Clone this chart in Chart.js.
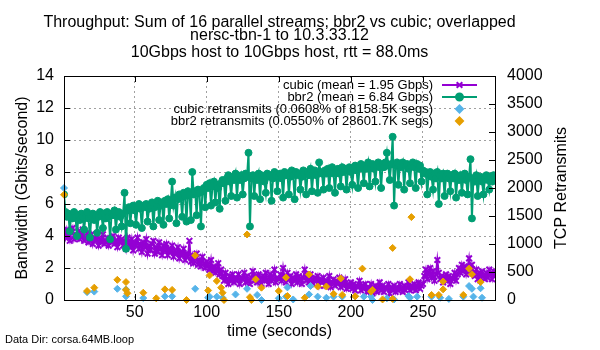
<!DOCTYPE html>
<html>
<head>
<meta charset="utf-8">
<script src="https://cdn.jsdelivr.net/npm/chart.js@4.4.1/dist/chart.umd.min.js"></script>
<style>
  html, body { margin: 0; padding: 0; background: #fff; }
  #wrap { width: 600px; height: 350px; position: relative; }
</style>
</head>
<body>
<div id="wrap"><canvas id="tput"></canvas></div>
<script>
// throughput per second, Gbits/s
const cubicGbps = [
  4.3, 3.9, 4.4, 4.0, 3.7, 4.2, 4.5, 3.8, 4.1, 3.9,
  4.3, 3.8, 4.0, 4.4, 3.7, 3.9, 4.2, 3.6, 3.8, 4.1,
  3.5, 3.9, 3.7, 4.0, 3.4, 3.8, 3.6, 4.1, 3.5, 3.7,
  3.9, 3.4, 3.8, 3.6, 4.0, 3.5, 3.7, 3.3, 3.9, 3.6,
  3.8, 3.4, 3.7, 3.2, 3.9, 3.5, 3.3, 3.8, 3.1, 3.6,
  3.4, 3.9, 3.2, 3.5, 3.0, 3.6, 3.3, 3.8, 2.9, 3.4,
  3.1, 3.5, 3.7, 2.9, 3.3, 3.0, 3.6, 3.2, 2.8, 3.4,
  3.1, 3.5, 2.8, 3.2, 3.0, 3.4, 2.7, 3.1, 2.9, 3.3,
  2.6, 3.0, 2.8, 3.2, 2.5, 2.9, 2.7, 3.7, 2.4, 2.8,
  2.3, 2.6, 2.9, 2.2, 2.5, 2.1, 2.7, 2.3, 2.0, 2.4,
  2.2, 1.9, 2.5, 1.8, 2.1, 1.7, 2.0, 2.3, 1.6, 1.9,
  1.5, 1.2, 1.7, 1.3, 1.0, 1.5, 1.2, 1.6, 1.1, 1.4,
  1.2, 1.6, 1.0, 1.4, 1.3, 1.7, 1.1, 1.5, 1.2, 1.0,
  1.4, 1.8, 1.2, 1.5, 1.1, 1.6, 1.3, 1.0, 1.5, 1.2,
  1.7, 1.3, 1.0, 1.6, 1.2, 1.5, 1.9, 1.1, 1.4, 1.3,
  1.6, 1.2, 2.0, 1.4, 1.1, 1.7, 1.3, 1.5, 1.0, 1.4,
  1.2, 1.6, 1.1, 1.5, 1.3, 1.0, 1.4, 1.9, 1.2, 1.5,
  1.1, 1.6, 1.3, 1.0, 1.4, 1.2, 1.5, 0.9, 1.3, 1.1,
  1.4, 0.9, 1.2, 1.0, 1.5, 0.8, 1.1, 1.3, 0.9, 1.2,
  1.0, 1.4, 0.8, 1.1, 0.9, 1.3, 0.7, 1.0, 0.8, 1.1,
  0.7, 1.0, 0.6, 0.9, 0.8, 1.2, 0.6, 0.9, 0.7, 1.0,
  0.5, 0.8, 0.6, 1.0, 0.4, 0.7, 0.9, 0.5, 0.8, 1.1,
  0.6, 0.9, 0.5, 0.8, 0.7, 1.0, 0.4, 0.8, 0.6, 0.9,
  0.5, 0.8, 0.6, 1.0, 0.7, 0.5, 0.9, 0.6, 0.8, 1.1,
  0.6, 0.9, 0.7, 1.0, 0.6, 0.8, 1.1, 0.7, 0.9, 1.0,
  1.5, 1.9, 1.3, 1.7, 2.0, 1.4, 1.8, 1.2, 1.6, 2.5,
  1.7, 1.3, 1.5, 1.1, 1.4, 1.6, 1.2, 1.5, 1.0, 1.4,
  1.3, 1.7, 1.2, 1.6, 2.0, 1.7, 2.2, 1.8, 2.1, 1.6,
  2.0, 2.6, 1.8, 2.2, 1.7, 1.5, 1.9, 1.3, 1.7, 1.4,
  1.8, 1.5, 1.3, 1.7, 1.4, 1.9, 1.6, 1.3, 1.8, 1.5
];
const bbr2Gbps = [
  6.6, 5.5, 5.2, 5.4, 4.3, 5.3, 5.1, 5.5, 5.2, 4.0,
  5.3, 5.0, 5.4, 5.2, 4.4, 5.3, 5.5, 5.1, 3.9, 5.2,
  5.4, 5.0, 5.3, 4.2, 5.2, 5.5, 5.3, 4.5, 5.4, 5.1,
  5.5, 5.2, 3.8, 5.4, 5.3, 5.6, 4.4, 5.3, 5.5, 5.2,
  4.6, 5.4, 6.7, 3.2, 5.6, 5.8, 4.8, 5.7, 5.9, 5.6,
  4.7, 5.8, 6.0, 5.7, 4.5, 5.9, 5.8, 6.0, 4.9, 5.7,
  5.9, 6.1, 4.6, 5.8, 6.0, 6.2, 5.0, 5.9, 6.1, 4.7,
  6.2, 6.0, 6.3, 5.1, 6.1, 7.4, 5.9, 6.4, 4.8, 6.3,
  6.6, 6.4, 5.2, 6.7, 6.5, 4.9, 6.8, 6.6, 5.0, 8.0,
  6.6, 6.8, 5.3, 6.9, 6.7, 4.6, 6.8, 7.0, 5.8, 7.2,
  7.0, 7.3, 5.9, 7.1, 7.4, 6.1, 7.2, 7.0, 5.7, 7.3,
  7.5, 7.3, 6.2, 7.6, 7.8, 7.4, 6.5, 7.7, 7.5, 7.9,
  6.4, 7.7, 7.5, 7.8, 6.6, 7.6, 7.9, 7.7, 9.2, 4.6,
  7.6, 7.8, 6.5, 7.7, 7.5, 7.9, 6.3, 7.8, 7.6, 7.4,
  6.7, 7.9, 7.7, 7.8, 6.2, 7.6, 8.0, 7.8, 6.8, 7.7,
  7.9, 7.6, 6.4, 8.0, 7.8, 7.9, 6.6, 7.7, 8.1, 7.8,
  6.3, 8.0, 7.8, 7.9, 6.9, 7.7, 8.1, 7.9, 6.6, 8.0,
  7.8, 8.2, 6.8, 7.9, 8.1, 7.8, 6.7, 8.6, 8.0, 7.9,
  6.9, 8.1, 7.9, 8.2, 7.0, 8.0, 8.3, 7.9, 6.7, 8.1,
  8.2, 7.9, 7.1, 8.3, 8.0, 8.2, 6.9, 8.1, 8.3, 8.0,
  7.2, 8.2, 8.4, 8.1, 7.0, 8.3, 8.5, 8.2, 7.3, 8.4,
  8.2, 8.6, 7.1, 8.3, 8.5, 8.2, 7.4, 8.4, 8.6, 8.3,
  7.0, 8.5, 8.3, 8.6, 9.2, 8.4, 7.5, 8.5, 10.2, 5.9,
  8.4, 8.6, 7.2, 8.5, 8.3, 8.6, 6.9, 8.4, 8.5, 8.2,
  7.3, 8.4, 8.6, 8.3, 7.0, 8.5, 8.2, 8.4, 7.4, 8.1,
  7.9, 8.0, 6.6, 7.8, 8.0, 7.7, 6.9, 7.9, 7.6, 8.0,
  6.0, 7.8, 7.6, 7.9, 6.5, 7.7, 7.9, 7.6, 6.8, 7.8,
  7.6, 7.9, 6.4, 7.7, 7.5, 7.8, 6.7, 7.6, 7.9, 7.5,
  6.6, 7.7, 8.8, 5.1, 7.6, 7.4, 7.8, 6.5, 7.5, 7.7,
  7.4, 6.6, 7.6, 7.8, 7.5, 6.9, 7.7, 7.4, 7.8, 7.5
];

// retransmits: [second, count]
const cubicRetrans = [
  [1, 2000], [17, 140], [22, 150], [38, 200], [44, 190], [44, 65], [56, 35],
  [71, 65], [76, 65], [92, 200], [101, 40], [102, 60], [107, 60], [111, 40],
  [120, 100], [128, 200], [135, 90], [138, 0], [150, 30], [155, 60], [156, 225],
  [160, 10], [171, 100], [172, 250], [177, 60], [183, 40], [188, 60], [194, 60],
  [203, 65], [209, 60], [214, 60], [215, 0], [225, 30], [230, 10], [240, 70],
  [241, 40], [246, 60], [256, 60], [262, 40], [268, 20], [278, 60], [282, 250],
  [284, 200], [285, 60], [290, 210], [291, 40]
];
const bbr2Retrans = [
  [1, 1880], [17, 160], [22, 220], [38, 360], [44, 320], [44, 180], [45, 120],
  [56, 130], [65, 30], [71, 190], [76, 180], [86, 0], [92, 795], [101, 170],
  [102, 440], [107, 340], [110, 220], [111, 130], [112, 0], [128, 1170],
  [130, 50], [131, 0], [134, 370], [138, 220], [150, 160], [155, 400], [156, 70],
  [168, 40], [171, 455], [177, 240], [183, 240], [188, 110], [193, 385],
  [194, 90], [203, 65], [208, 560], [214, 150], [215, 180], [222, 10],
  [229, 930], [229, 20], [241, 370], [242, 1480], [256, 90], [261, 90],
  [264, 190], [264, 330], [278, 90], [282, 560], [284, 460], [290, 320]
];

const xTicks = [50, 100, 150, 200, 250];
const titleLines = [
  'Throughput: Sum of 16 parallel streams; bbr2 vs cubic; overlapped',
  'nersc-tbn-1 to 10.3.33.12',
  '10Gbps host to 10Gbps host, rtt = 88.0ms'
];
const seriesNames = [
  'cubic (mean = 1.95 Gbps)',
  'bbr2 (mean = 6.84 Gbps)',
  'cubic retransmits (0.0608% of 8158.5K segs)',
  'bbr2 retransmits (0.0550% of 28601.7K segs)'
];
const y2Title = 'TCP Retransmits';
const dataDir = 'Data Dir: corsa.64MB.loop';

const FONT = '"Liberation Sans", Arial, sans-serif';
Chart.defaults.font.family = FONT;
Chart.defaults.color = '#000';

const seconds = cubicGbps.map((v, i) => i + 1);
const toXY = (vals) => vals.map((v, i) => ({ x: seconds[i], y: v }));
const pairs = (arr) => arr.map(p => ({ x: p[0], y: p[1] }));

// gnuplot style key: text right aligned, sample on the right
const keyPlugin = {
  id: 'gnuKey',
  afterDatasetsDraw(chart) {
    const ctx = chart.ctx;
    const area = chart.chartArea;
    const textRight = area.right - 62;
    const sx0 = textRight + 9, sx1 = textRight + 44;
    ctx.save();
    ctx.font = '13px ' + FONT;
    ctx.textAlign = 'right';
    ctx.textBaseline = 'middle';
    chart.data.datasets.forEach((ds, i) => {
      const y = area.top + 9 + i * 12;
      ctx.fillStyle = '#000';
      ctx.fillText(ds.label, textRight, y);
      ctx.strokeStyle = ds.borderColor;
      ctx.fillStyle = ds.pointBackgroundColor;
      if (ds.showLine) {
        ctx.lineWidth = ds.borderWidth;
        ctx.beginPath();
        ctx.moveTo(sx0, y);
        ctx.lineTo(sx1, y);
        ctx.stroke();
      }
      Chart.helpers.drawPoint(ctx, {
        pointStyle: ds.pointStyle, rotation: 0,
        radius: ds.pointRadius, borderWidth: ds.pointBorderWidth
      }, (sx0 + sx1) / 2, y);
    });
    ctx.restore();
  }
};

// box round the plot, inward ticks, titles gnuplot puts where chart.js won't
const framePlugin = {
  id: 'frame',
  afterDatasetsDraw(chart) {
    const ctx = chart.ctx;
    const a = chart.chartArea;
    const sx = chart.scales.x, sy = chart.scales.y, sy2 = chart.scales.y2;
    ctx.save();
    ctx.strokeStyle = '#000';
    ctx.lineWidth = 1;
    ctx.strokeRect(Math.round(a.left) + 0.5, Math.round(a.top) + 0.5,
      Math.round(a.right - a.left), Math.round(a.bottom - a.top));
    ctx.beginPath();
    sx.ticks.forEach(t => {
      const px = Math.round(sx.getPixelForValue(t.value)) + 0.5;
      ctx.moveTo(px, a.bottom); ctx.lineTo(px, a.bottom - 6);
      ctx.moveTo(px, a.top); ctx.lineTo(px, a.top + 6);
    });
    sy.ticks.forEach(t => {
      const py = Math.round(sy.getPixelForValue(t.value)) + 0.5;
      ctx.moveTo(a.left, py); ctx.lineTo(a.left + 6, py);
    });
    sy2.ticks.forEach(t => {
      const py = Math.round(sy2.getPixelForValue(t.value)) + 0.5;
      ctx.moveTo(a.right, py); ctx.lineTo(a.right - 6, py);
    });
    ctx.stroke();
    ctx.restore();
  },
  afterDraw(chart) {
    const ctx = chart.ctx;
    const a = chart.chartArea;
    const midX = (a.left + a.right) / 2;
    ctx.save();
    ctx.fillStyle = '#000';
    // main title, centred over the plot like gnuplot does
    ctx.font = '16px ' + FONT;
    ctx.textAlign = 'center';
    ctx.textBaseline = 'alphabetic';
    [27, 40, 57].forEach((by, i) => ctx.fillText(titleLines[i], midX, by));
    // right axis title reads bottom to top
    ctx.save();
    ctx.translate(562, (a.top + a.bottom) / 2);
    ctx.rotate(-Math.PI / 2);
    ctx.textBaseline = 'middle';
    ctx.fillText(y2Title, 0, 0);
    ctx.restore();
    ctx.font = '11px ' + FONT;
    ctx.textAlign = 'left';
    ctx.textBaseline = 'middle';
    ctx.fillText(dataDir, 5, chart.height - 10);
    ctx.restore();
  }
};

const ctx = document.getElementById('tput').getContext('2d');
new Chart(ctx, {
  type: 'line',
  data: {
    datasets: [
      {
        label: seriesNames[0],
        data: toXY(cubicGbps),
        yAxisID: 'y',
        borderColor: '#9400d3',
        backgroundColor: '#9400d3',
        pointBackgroundColor: '#9400d3',
        borderWidth: 2,
        pointStyle: 'crossRot',
        pointRadius: 4,
        pointBorderWidth: 2,
        showLine: true,
        order: 4
      },
      {
        label: seriesNames[1],
        data: toXY(bbr2Gbps),
        yAxisID: 'y',
        borderColor: '#009e73',
        backgroundColor: '#009e73',
        pointBackgroundColor: '#009e73',
        borderWidth: 2,
        pointStyle: 'circle',
        pointRadius: 3.5,
        pointBorderWidth: 1,
        showLine: true,
        order: 3
      },
      {
        label: seriesNames[2],
        data: pairs(cubicRetrans),
        yAxisID: 'y2',
        borderColor: '#56b4e9',
        backgroundColor: '#56b4e9',
        pointBackgroundColor: '#56b4e9',
        pointStyle: 'rectRot',
        pointRadius: 3.5,
        pointBorderWidth: 1,
        showLine: false,
        clip: false,
        order: 2
      },
      {
        label: seriesNames[3],
        data: pairs(bbr2Retrans),
        yAxisID: 'y2',
        borderColor: '#e69f00',
        backgroundColor: '#e69f00',
        pointBackgroundColor: '#e69f00',
        pointStyle: 'rectRot',
        pointRadius: 3.5,
        pointBorderWidth: 1,
        showLine: false,
        clip: false,
        order: 1
      }
    ]
  },
  options: {
    responsive: true,
    maintainAspectRatio: false,
    animation: false,
    layout: { padding: { top: 76, left: 0, right: 0, bottom: 0 } },
    elements: { line: { tension: 0 } },
    scales: {
      x: {
        type: 'linear',
        min: 1,
        max: 300,
        afterBuildTicks: (scale) => { scale.ticks = xTicks.map(v => ({ value: v })); },
        afterFit: (scale) => { scale.height = 50; },
        grid: { color: '#a0a0a0', drawTicks: false },
        border: { display: false, dash: [2, 3] },
        ticks: { font: { size: 16 }, padding: 3, maxRotation: 0 },
        title: { display: true, text: 'time (seconds)', font: { size: 16 }, padding: { top: 0, bottom: 9 } }
      },
      y: {
        position: 'left',
        min: 0,
        max: 14,
        afterFit: (scale) => { scale.width = 64; },
        grid: { color: '#a0a0a0', drawTicks: false },
        border: { display: false, dash: [2, 3] },
        ticks: { stepSize: 2, font: { size: 16 }, padding: 10 },
        title: { display: true, text: 'Bandwidth (Gbits/second)', font: { size: 16 }, padding: { top: 13, bottom: 0 } }
      },
      y2: {
        position: 'right',
        min: 0,
        max: 4000,
        afterFit: (scale) => { scale.width = 105; },
        grid: { drawOnChartArea: false, drawTicks: false },
        border: { display: false },
        ticks: { stepSize: 500, font: { size: 16 }, padding: 12, callback: (v) => String(v) },
        title: { display: false }
      }
    },
    plugins: {
      legend: { display: false },
      tooltip: { enabled: false },
      title: { display: false }
    }
  },
  plugins: [framePlugin, keyPlugin]
});
</script>
</body>
</html>
